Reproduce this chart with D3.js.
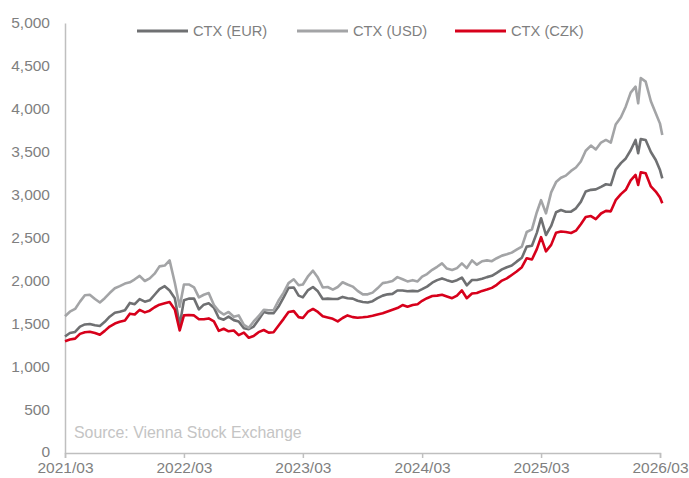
<!DOCTYPE html>
<html>
<head>
<meta charset="utf-8">
<script src="https://cdn.jsdelivr.net/npm/d3@7"></script>
<style>
  body { margin: 0; background: #fff; }
  svg { display: block; font-family: "Liberation Sans", Arial, sans-serif; }
</style>
</head>
<body>
<div id="chart"></div>
<script>
const dates = [
  "2021-03-01","2021-03-16","2021-04-01","2021-04-16","2021-05-01","2021-05-16","2021-06-01","2021-06-16",
  "2021-07-01","2021-07-16","2021-08-01","2021-08-16","2021-09-01","2021-09-16","2021-10-01","2021-10-16",
  "2021-11-01","2021-11-16","2021-12-01","2021-12-16","2022-01-01","2022-01-16","2022-02-01","2022-02-16",
  "2022-03-01","2022-03-16","2022-04-01","2022-04-16","2022-05-01","2022-05-16","2022-06-01","2022-06-16",
  "2022-07-01","2022-07-16","2022-08-01","2022-08-16","2022-09-01","2022-09-16","2022-10-01","2022-10-16",
  "2022-11-01","2022-11-16","2022-12-01","2022-12-16","2023-01-01","2023-01-16","2023-02-01","2023-02-16",
  "2023-03-01","2023-03-16","2023-04-01","2023-04-16","2023-05-01","2023-05-16","2023-06-01","2023-06-16",
  "2023-07-01","2023-07-16","2023-08-01","2023-08-16","2023-09-01","2023-09-16","2023-10-01","2023-10-16",
  "2023-11-01","2023-11-16","2023-12-01","2023-12-16","2024-01-01","2024-01-16","2024-02-01","2024-02-16",
  "2024-03-01","2024-03-16","2024-04-01","2024-04-16","2024-05-01","2024-05-16","2024-06-01","2024-06-16",
  "2024-07-01","2024-07-16","2024-08-01","2024-08-16","2024-09-01","2024-09-16","2024-10-01","2024-10-16",
  "2024-11-01","2024-11-16","2024-12-01","2024-12-16","2025-01-01","2025-01-16","2025-02-01","2025-02-16",
  "2025-03-01","2025-03-16","2025-04-01","2025-04-16","2025-05-01","2025-05-16","2025-06-01","2025-06-16",
  "2025-07-01","2025-07-16","2025-08-01","2025-08-16","2025-09-01","2025-09-16","2025-10-01","2025-10-16",
  "2025-11-01","2025-11-16","2025-12-01","2025-12-16","2025-12-24","2026-01-01","2026-01-16","2026-02-01",
  "2026-02-16","2026-03-01","2026-03-08"
];

const ctxEur = [
  1355,1395,1408,1470,1495,1500,1485,1477,1525,1585,1630,1643,1660,1745,1730,1790,
  1760,1775,1840,1905,1940,1890,1800,1490,1775,1795,1795,1670,1725,1740,1690,1570,
  1550,1585,1545,1530,1450,1440,1470,1550,1640,1625,1625,1700,1810,1920,1925,1830,
  1810,1890,1930,1880,1790,1795,1790,1790,1815,1800,1795,1770,1755,1750,1765,1800,
  1830,1845,1850,1890,1890,1880,1885,1880,1905,1935,1980,2010,2030,2010,1992,2010,
  2040,1950,2012,2012,2025,2045,2060,2095,2135,2160,2180,2225,2270,2400,2410,2560,
  2730,2535,2640,2800,2825,2806,2806,2845,2920,3040,3060,3065,3095,3125,3116,3295,
  3370,3425,3520,3640,3485,3650,3640,3500,3407,3290,3194
];

const ctxUsd = [
  1590,1643,1675,1760,1835,1840,1790,1750,1800,1860,1915,1940,1970,1985,2020,2060,
  2000,2030,2085,2170,2180,2240,1980,1700,1960,1960,1925,1810,1840,1860,1720,1650,
  1610,1640,1585,1600,1490,1455,1530,1590,1665,1660,1660,1770,1865,1975,2020,1950,
  1960,2050,2120,2040,1925,1930,1900,1930,1985,1960,1935,1885,1845,1845,1865,1915,
  1975,1985,2000,2045,2020,1995,2010,1995,2050,2080,2130,2165,2205,2145,2128,2150,
  2205,2150,2240,2190,2230,2240,2230,2265,2295,2310,2330,2365,2400,2570,2600,2800,
  2940,2787,3030,3150,3200,3225,3280,3320,3390,3515,3575,3530,3610,3640,3610,3820,
  3905,4030,4190,4260,4066,4360,4318,4090,3950,3830,3698
];

const ctxCzk = [
  1300,1320,1330,1385,1405,1410,1395,1375,1420,1470,1505,1525,1540,1620,1610,1665,
  1635,1655,1695,1725,1740,1755,1670,1425,1600,1605,1600,1555,1555,1565,1530,1420,
  1445,1415,1425,1370,1400,1340,1360,1405,1430,1400,1405,1480,1560,1640,1650,1580,
  1570,1640,1675,1640,1590,1575,1560,1530,1570,1600,1580,1572,1578,1585,1595,1610,
  1625,1645,1665,1685,1720,1700,1720,1730,1770,1800,1825,1830,1840,1820,1800,1830,
  1890,1800,1855,1860,1885,1900,1920,1955,2005,2030,2070,2110,2160,2265,2250,2370,
  2510,2345,2420,2560,2575,2570,2558,2585,2660,2745,2755,2720,2785,2815,2810,2940,
  3010,3060,3170,3233,3116,3265,3252,3100,3040,2970,2903
];

const seriesNames = ["CTX (EUR)", "CTX (USD)", "CTX (CZK)"];
const seriesColors = ["#6f7072", "#a3a4a6", "#d7001b"];
const yTicks = [0, 500, 1000, 1500, 2000, 2500, 3000, 3500, 4000, 4500, 5000];
const xTickDates = ["2021-03-01","2022-03-01","2023-03-01","2024-03-01","2025-03-01","2026-03-01"];

const width = 689, height = 478;
const margin = {top: 23, right: 29, bottom: 25, left: 65};

const parse = d3.utcParse("%Y-%m-%d");
const D = dates.map(parse);
const series = [ctxEur, ctxUsd, ctxCzk].map((vals, k) => ({
  name: seriesNames[k],
  color: seriesColors[k],
  points: vals.map((v, i) => [D[i], v])
}));

const x = d3.scaleUtc()
  .domain([parse(xTickDates[0]), parse(xTickDates[xTickDates.length - 1])])
  .range([margin.left, width - margin.right]);

const y = d3.scaleLinear()
  .domain([0, 5000])
  .range([height - margin.bottom, margin.top]);

const svg = d3.select("#chart").append("svg")
  .attr("width", width)
  .attr("height", height);

const axisColor = "#bfbfbf";
const textColor = "#7f7f7f";

// y axis
const gy = svg.append("g")
  .attr("transform", `translate(${margin.left},0)`)
  .call(d3.axisLeft(y).tickValues(yTicks).tickSize(0).tickPadding(15).tickFormat(d3.format(",")));
gy.select(".domain").attr("stroke", axisColor).attr("stroke-width", 1.5);
gy.selectAll("text").attr("fill", textColor).attr("font-size", 15.5)
  .attr("font-family", "Liberation Sans, Arial, sans-serif");
// lift the zero label a touch so it clears the first date label
gy.selectAll(".tick").filter(d => d === 0).select("text").attr("dy", "0.2em");

// x axis
const gx = svg.append("g")
  .attr("transform", `translate(0,${height - margin.bottom})`)
  .call(d3.axisBottom(x).tickValues(xTickDates.map(parse)).tickSize(5).tickPadding(4)
    .tickFormat(d3.utcFormat("%Y/%m")));
gx.select(".domain").attr("stroke", axisColor).attr("stroke-width", 1.5);
gx.selectAll(".tick line").attr("stroke", axisColor).attr("stroke-width", 1.5);
gx.selectAll("text").attr("fill", textColor).attr("font-size", 15.5)
  .attr("font-family", "Liberation Sans, Arial, sans-serif");

// lines
const line = d3.line()
  .x(d => x(d[0]))
  .y(d => y(d[1]));

svg.append("g")
  .selectAll("path")
  .data(series)
  .join("path")
  .attr("fill", "none")
  .attr("stroke", d => d.color)
  .attr("stroke-width", 2.6)
  .attr("stroke-linejoin", "round")
  .attr("d", d => line(d.points));

// legend
const legendX = [137, 297, 455];
const legend = svg.append("g")
  .selectAll("g")
  .data(series)
  .join("g")
  .attr("transform", (d, i) => `translate(${legendX[i]},31)`);
legend.append("line")
  .attr("x1", 0).attr("x2", 51)
  .attr("stroke", d => d.color)
  .attr("stroke-width", 3);
legend.append("text")
  .attr("x", 56)
  .attr("dy", "0.35em")
  .attr("fill", textColor)
  .attr("font-size", 14.7)
  .text(d => d.name);

// source
svg.append("text")
  .attr("x", 74)
  .attr("y", 438)
  .attr("fill", "#c4c4c4")
  .attr("font-size", 15.9)
  .text("Source: Vienna Stock Exchange");
</script>
</body>
</html>
